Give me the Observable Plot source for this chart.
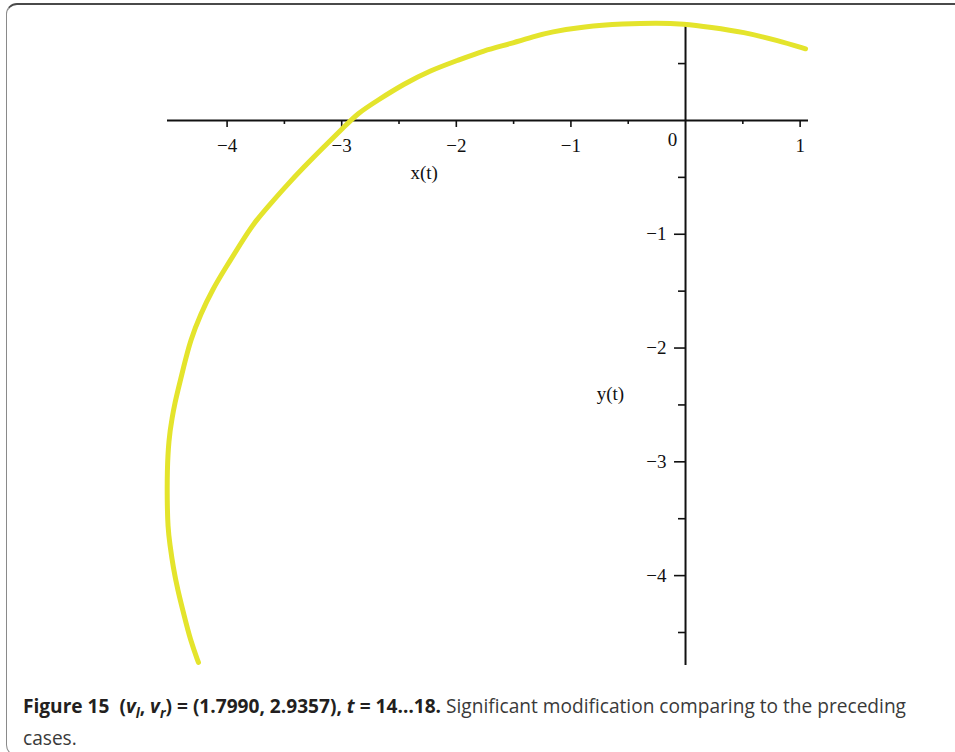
<!DOCTYPE html>
<html>
<head>
<meta charset="utf-8">
<script src="https://cdn.jsdelivr.net/npm/d3@7"></script>
<script src="https://cdn.jsdelivr.net/npm/@observablehq/plot@0.6"></script>
<style>
  html, body { margin: 0; padding: 0; background: #fff; }
  #page { position: relative; width: 955px; height: 752px; overflow: hidden; }
  #frame {
    position: absolute; left: 6px; top: 3px; width: 1000px; height: 753px;
    box-sizing: border-box;
    border-top: 2px solid #4a4a4a; border-left: 1.5px solid #8a8a8a; border-bottom: 1.5px solid #8a8a8a;
    border-radius: 11px 0 0 11px;
  }
  #chart { position: absolute; left: 0; top: 0; }
  #chart svg text { font-family: 'Liberation Serif', 'DejaVu Serif', serif; font-size: 19px; }
  #chart svg text.title { font-size: 17px; }
  #caption {
    position: absolute; left: 23px; top: 690px;
    font-family: "Open Sans", sans-serif;
    font-size: 19.5px; line-height: 32px; color: #3a3a3a; white-space: nowrap;
  }
  #caption .line { display: block; transform-origin: 0 50%; }
  #caption b { color: #231f20; }
  #caption sub { font-size: 70%; line-height: 0; }
</style>
</head>
<body>
<div id="page">
  <div id="frame"></div>
  <div id="chart"></div>
  <div id="caption">
    <span class="line" id="line1"><b>Figure 15</b>&nbsp; <b>(<i>v<sub>l</sub></i>, <i>v<sub>r</sub></i>) = (1.7990, 2.9357), <i>t</i> = 14…18.</b> Significant modification comparing to the preceding</span>
    <span class="line" id="line2">cases.</span>
  </div>
</div>
<script>
// Trajectory (x(t), y(t)) for t = 14…18
const curveX = [-4.25, -4.32, -4.38, -4.43, -4.47, -4.50, -4.517, -4.523, -4.523, -4.51, -4.48, -4.45,
  -4.436, -4.38, -4.32, -4.23, -4.13, -4.01, -3.88, -3.77, -3.62, -3.48, -3.33, -3.16, -2.98,
  -2.865, -2.69, -2.46, -2.225, -1.99, -1.76, -1.527, -1.32, -1.18,
  -0.887, -0.538, -0.25, -0.015, 0.218, 0.509, 0.80, 1.047];
const curveY = [-4.763, -4.57, -4.33, -4.13, -3.93, -3.72, -3.58, -3.34, -3.08, -2.81, -2.61, -2.46,
  -2.40, -2.17, -1.93, -1.70, -1.49, -1.29, -1.08, -0.905, -0.73, -0.57, -0.41, -0.235, -0.06,
  0.06, 0.175, 0.32, 0.44, 0.527, 0.615, 0.674, 0.74, 0.777,
  0.826, 0.85, 0.858, 0.85, 0.82, 0.777, 0.703, 0.63];

// Axis extents and ticks
const xExtent = [-4.52, 1.073];
const yExtent = [-4.79, 0.861];
const xMajor = [-4, -3, -2, -1, 1];
const xMajorLabels = ["\u22124", "\u22123", "\u22122", "\u22121", "1"];
const xMinor = [-3.5, -2.5, -1.5, -0.5, 0.5];
const yMajor = [-1, -2, -3, -4];
const yMajorLabels = ["\u22121", "\u22122", "\u22123", "\u22124"];
const yMinor = [0.5, -0.5, -1.5, -2.5, -3.5, -4.5];
const originLabel = ["0"];
const xTitle = [{x: -2.28, y: 0, text: "x(t)"}];
const yTitle = [{x: -0.655, y: -2.40, text: "y(t)"}];

const curve = curveX.map((x, i) => ({x, y: curveY[i]}));
const ink = "#111";

const chart = Plot.plot({
  width: 955,
  height: 690,
  x: {domain: xExtent, range: [167, 808], axis: null},
  y: {domain: yExtent, range: [665, 22], axis: null},
  marks: [
    // axes through the origin
    Plot.ruleY([0], {x1: xExtent[0], x2: xExtent[1], stroke: ink, strokeWidth: 2}),
    Plot.ruleX([0], {y1: yExtent[0], y2: yExtent[1], stroke: ink, strokeWidth: 2}),
    // x ticks hang below the axis
    Plot.ruleX(xMajor, {x: d => d, y1: 0, y2: 0, insetBottom: -7, stroke: ink, strokeWidth: 1.6}),
    Plot.ruleX(xMinor, {x: d => d, y1: 0, y2: 0, insetBottom: -4, stroke: ink, strokeWidth: 1.6}),
    // y ticks point left of the axis
    Plot.ruleY(yMajor, {y: d => d, x1: 0, x2: 0, insetLeft: -11, stroke: ink, strokeWidth: 1.6}),
    Plot.ruleY(yMinor, {y: d => d, x1: 0, x2: 0, insetLeft: -7, stroke: ink, strokeWidth: 1.6}),
    // tick labels
    Plot.text(xMajor, {x: d => d, y: 0, text: (d, i) => xMajorLabels[i], dy: 25, fill: ink}),
    Plot.text(originLabel, {x: 0, y: 0, text: d => d, dx: -13, dy: 19, fill: ink}),
    Plot.text(yMajor, {x: 0, y: d => d, text: (d, i) => yMajorLabels[i], textAnchor: "end", dx: -19, fill: ink}),
    // axis titles
    Plot.text(xTitle, {x: "x", y: "y", text: "text", dy: 52, fill: ink, className: "title"}),
    Plot.text(yTitle, {x: "x", y: "y", text: "text", fill: ink, className: "title"}),
    // the trajectory
    Plot.line(curve, {x: "x", y: "y", stroke: "#e4e42c", strokeWidth: 5, curve: "basis"})
  ]
});
document.getElementById("chart").append(chart);

// fit the caption's first line to its column width
const line1 = document.getElementById("line1");
const line2 = document.getElementById("line2");
const w = line1.getBoundingClientRect().width;
const s = 883 / w;
line1.style.transform = `scaleX(${s})`;
line2.style.transform = `scaleX(${s})`;
</script>
</body>
</html>
